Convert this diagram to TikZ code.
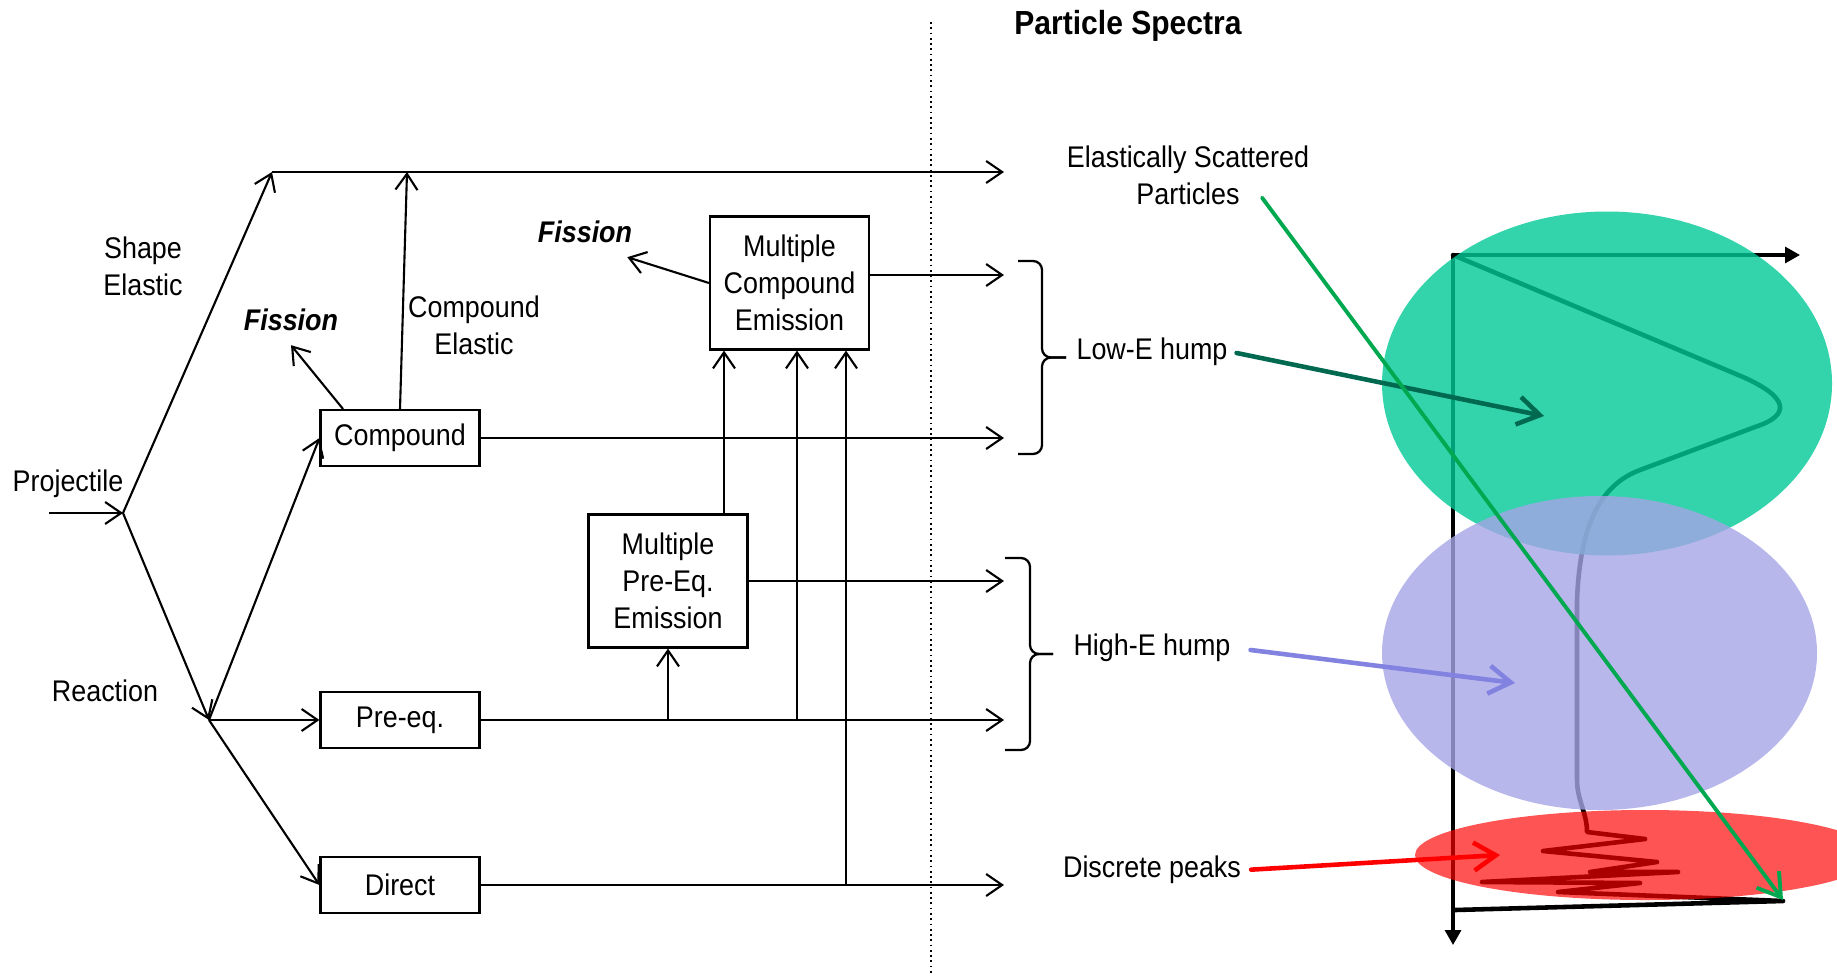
\documentclass[tikz,border=0pt]{standalone}
\usepackage{fontspec}
\setmainfont[FakeStretch=0.9]{Liberation Sans}
\usetikzlibrary{arrows.meta}
\definecolor{lowteal}{RGB}{0,200,150}
\definecolor{lowdark}{RGB}{0,105,80}
\definecolor{highlav}{RGB}{165,165,230}
\definecolor{higharr}{RGB}{130,130,225}
\definecolor{elgreen}{RGB}{0,168,80}
\begin{document}
\begin{tikzpicture}[
txt/.style={font=\fontsize{8.5}{10.5}\selectfont, align=center, inner sep=1pt},
head/.style={font=\fontsize{9.5}{11}\selectfont\bfseries, inner sep=1pt},
fis/.style={font=\fontsize{8.5}{10.5}\selectfont\bfseries\itshape, inner sep=1pt},
box/.style={txt, draw, line width=0.6pt, minimum width=1.59cm, minimum height=0.56cm},
bigbox/.style={box, minimum height=1.33cm},
arr/.style={-{Straight Barb[length=1.6mm,width=2.2mm]}, line width=0.6pt},
brc/.style={rounded corners=0.9mm, line width=0.65pt},
axis/.style={-{Triangle[length=1.5mm,width=1.6mm]}, line width=0.9pt},
curve/.style={line width=1.3pt, line join=round, line cap=round},
hint/.style={-{Straight Barb[length=2.2mm,width=2.8mm]}, line width=1.3pt, line cap=round}
]
\useasboundingbox (0,0) rectangle (18.37,9.75);
\clip (0,0) rectangle (18.37,9.75);
\draw[densely dotted, line width=0.5pt] (9.31,9.53) -- (9.31,0);
\node[head] (spectra) at (11.28,9.49) {Particle Spectra};

\coordinate (pin) at (0.49,4.62);
\coordinate (split) at (1.23,4.62);
\coordinate (corner) at (2.72,8.03);
\coordinate (rsplit) at (2.09,2.55);
\coordinate (celas) at (4.07,8.03);
\coordinate (rim) at (10.04,0);

\node[txt] (proj) at (0.68,4.91) {Projectile};
\node[txt] (shape) at (1.43,7.09) {Shape\\Elastic};
\node[txt] (react) at (1.05,2.84) {Reaction};
\node[fis] (fis1) at (2.91,6.55) {Fission};
\node[fis] (fis2) at (5.85,7.43) {Fission};
\node[txt] (celabel) at (4.74,6.50) {Compound\\Elastic};
\node[box] (comp) at (4.00,5.37) {Compound};
\node[box] (preeq) at (4.00,2.55) {Pre-eq.};
\node[box] (direct) at (4.00,0.90) {Direct};
\node[bigbox] (mce) at (7.895,6.92) {Multiple\\Compound\\Emission};
\node[bigbox] (mpe) at (6.68,3.94) {Multiple\\Pre-Eq.\\Emission};

\draw[arr] (pin) -- (split);
\draw[arr] (split) -- (corner);
\draw[arr] (corner) -- (corner -| rim);
\draw[arr] (split) -- (rsplit);
\foreach \b in {comp,preeq,direct}
\draw[arr] (rsplit) -- (\b.west);
\draw[arr] ([xshift=-5.7mm]comp.north) -- ([yshift=-1mm]fis1.south);
\draw[arr] (comp.north) -- (celas);
\draw[arr] (mce.west) -- ([xshift=-0.9mm,yshift=-1mm]fis2.south east);
\draw[arr] ([yshift=0.8mm]mce.east) -- ([yshift=0.8mm]mce.east -| rim);
\foreach \b in {comp,mpe,preeq,direct}
\draw[arr] (\b.east) -- (\b.east -| rim);
\draw[arr] (preeq.east -| mpe.south) -- (mpe.south);
\foreach \x/\b in {7.24/mpe.north,7.97/preeq.east,8.46/direct.east}
\draw[arr] (\b -| \x,0) -- (mce.south -| \x,0);

\draw[brc] (10.18,7.14) -- (10.42,7.14) -- (10.42,6.175) -- (10.66,6.175);
\draw[brc] (10.66,6.175) -- (10.42,6.175) -- (10.42,5.21) -- (10.18,5.21);
\draw[brc] (10.05,4.17) -- (10.30,4.17) -- (10.30,3.21) -- (10.53,3.21);
\draw[brc] (10.53,3.21) -- (10.30,3.21) -- (10.30,2.25) -- (10.05,2.25);
\node[txt] (elastic) at (11.88,8.00) {Elastically Scattered\\Particles};
\node[txt] (lowe) at (11.52,6.23) {Low-E hump};
\node[txt] (highe) at (11.52,3.27) {High-E hump};
\node[txt] (disc) at (11.52,1.05) {Discrete peaks};

\draw[axis] (14.53,7.20) -- (18.00,7.20);
\draw[axis] (14.53,7.20) -- (14.53,0.30);
\draw[curve] (14.53,7.20) -- (17.43,5.98) .. controls (17.88,5.78) and (17.92,5.60) .. (17.55,5.48) -- (16.40,5.05) .. controls (16.00,4.90) and (15.80,4.50) .. (15.77,3.75) -- (15.77,1.95) .. controls (15.77,1.75) and (15.87,1.62) .. (15.87,1.43) -- (16.45,1.36) -- (15.43,1.24) -- (16.57,1.13) -- (15.90,1.03) -- (16.78,1.03) -- (14.82,0.93) -- (16.40,0.92) -- (15.58,0.83) -- (17.83,0.74) -- (14.55,0.65);
\fill[lowteal, fill opacity=0.8] (16.07,5.915) ellipse [x radius=2.25, y radius=1.72];
\fill[highlav, fill opacity=0.8] (15.995,3.22) ellipse [x radius=2.175, y radius=1.57];
\fill[red, fill opacity=0.67] (16.45,1.20) ellipse [x radius=2.30, y radius=0.45];

\coordinate (lowtip) at (15.44,5.59);
\coordinate (hightip) at (15.15,2.92);
\coordinate (disctip) at (15.00,1.20);
\coordinate (elpeak) at (17.83,0.75);
\draw[hint, lowdark, shorten <=0.5mm] (lowe.east) -- (lowtip);
\draw[hint, higharr, shorten <=1.6mm] (highe.east) -- (hightip);
\draw[hint, red, shorten <=0.6mm] (disc.east) -- (disctip);
\draw[hint, elgreen, line width=1.1pt] ([xshift=7.4mm,yshift=1.1mm]elastic.south) -- (elpeak);
\end{tikzpicture}
\end{document}
